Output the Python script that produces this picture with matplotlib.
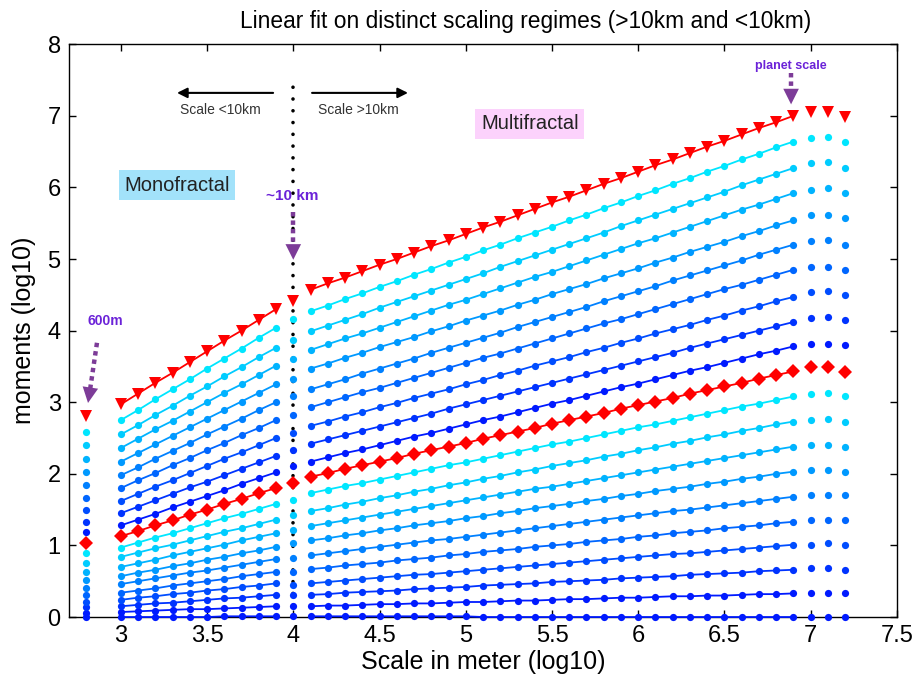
import matplotlib
matplotlib.use('Agg')
import matplotlib.pyplot as plt

plt.rcParams['font.family'] = ['Liberation Sans', 'DejaVu Sans']

# moment orders q (one curve per order)
q_orders = [0.0, 0.1, 0.2, 0.3, 0.4, 0.5, 0.6, 0.7, 0.8, 0.9, 1.0,
            1.1, 1.2, 1.3, 1.4, 1.5, 1.6, 1.7, 1.8, 1.9, 2.0]

# scales (log10 of meters)
scale_600m = 2.8
scale_left = [3.0, 3.1, 3.2, 3.3, 3.4, 3.5, 3.6, 3.7, 3.8, 3.9]
scale_10km = 4.0
scale_right = [4.1, 4.2, 4.3, 4.4, 4.5, 4.6, 4.7, 4.8, 4.9, 5.0,
               5.1, 5.2, 5.3, 5.4, 5.5, 5.6, 5.7, 5.8, 5.9, 6.0,
               6.1, 6.2, 6.3, 6.4, 6.5, 6.6, 6.7, 6.8, 6.9]
scale_tail = [7.0, 7.1, 7.2]

# log10 moments
mom_600m = [0.00, 0.06, 0.14, 0.21, 0.31, 0.40, 0.52, 0.63, 0.75, 0.89, 1.03,
            1.19, 1.33, 1.49, 1.66, 1.84, 2.03, 2.21, 2.40, 2.59, 2.81]

mom_left = [
    [0.00, 0.00, 0.00, 0.00, 0.00, 0.00, 0.01, 0.01, 0.01, 0.01],
    [0.07, 0.08, 0.09, 0.10, 0.11, 0.11, 0.12, 0.13, 0.14, 0.15],
    [0.15, 0.17, 0.19, 0.20, 0.22, 0.24, 0.26, 0.27, 0.29, 0.31],
    [0.24, 0.27, 0.29, 0.32, 0.34, 0.37, 0.39, 0.42, 0.44, 0.47],
    [0.34, 0.37, 0.40, 0.44, 0.47, 0.50, 0.53, 0.57, 0.60, 0.63],
    [0.46, 0.50, 0.54, 0.58, 0.62, 0.65, 0.69, 0.73, 0.77, 0.81],
    [0.57, 0.62, 0.66, 0.71, 0.75, 0.80, 0.84, 0.89, 0.93, 0.98],
    [0.70, 0.75, 0.80, 0.86, 0.91, 0.96, 1.01, 1.07, 1.12, 1.17],
    [0.84, 0.90, 0.96, 1.01, 1.07, 1.13, 1.19, 1.24, 1.30, 1.36],
    [0.97, 1.04, 1.11, 1.17, 1.24, 1.31, 1.38, 1.44, 1.51, 1.58],
    [1.13, 1.20, 1.28, 1.35, 1.43, 1.50, 1.58, 1.65, 1.73, 1.80],
    [1.28, 1.36, 1.44, 1.53, 1.61, 1.69, 1.77, 1.86, 1.94, 2.02],
    [1.45, 1.54, 1.63, 1.72, 1.81, 1.89, 1.98, 2.07, 2.16, 2.25],
    [1.62, 1.72, 1.82, 1.91, 2.01, 2.11, 2.21, 2.30, 2.40, 2.50],
    [1.80, 1.91, 2.01, 2.12, 2.22, 2.33, 2.43, 2.54, 2.64, 2.75],
    [1.98, 2.09, 2.21, 2.32, 2.43, 2.55, 2.66, 2.77, 2.89, 3.00],
    [2.17, 2.29, 2.41, 2.53, 2.65, 2.77, 2.89, 3.01, 3.13, 3.25],
    [2.36, 2.49, 2.62, 2.74, 2.87, 3.00, 3.13, 3.25, 3.38, 3.51],
    [2.55, 2.68, 2.82, 2.95, 3.09, 3.22, 3.36, 3.49, 3.63, 3.76],
    [2.75, 2.89, 3.04, 3.18, 3.32, 3.47, 3.61, 3.75, 3.90, 4.04],
    [2.97, 3.12, 3.27, 3.41, 3.56, 3.71, 3.86, 4.00, 4.15, 4.30],
]

mom_10km = [0.01, 0.15, 0.31, 0.45, 0.63, 0.82, 1.03, 1.22, 1.43, 1.64, 1.87,
            2.11, 2.33, 2.57, 2.82, 3.08, 3.33, 3.61, 3.87, 4.16, 4.42]

mom_right = [
    [0.01, 0.01, 0.01, 0.01, 0.01, 0.01, 0.01, 0.01, 0.01, 0.01, 0.00, 0.00, 0.00, 0.00, 0.00,
     0.00, 0.00, 0.00, 0.00, 0.00, 0.00, 0.00, 0.00, 0.00, 0.00, 0.00, 0.00, 0.00, 0.00],
    [0.15, 0.16, 0.16, 0.17, 0.18, 0.18, 0.19, 0.19, 0.20, 0.21, 0.21, 0.22, 0.23, 0.23, 0.24,
     0.25, 0.25, 0.26, 0.27, 0.27, 0.28, 0.29, 0.29, 0.30, 0.30, 0.31, 0.32, 0.32, 0.33],
    [0.31, 0.32, 0.34, 0.35, 0.36, 0.37, 0.39, 0.40, 0.41, 0.42, 0.44, 0.45, 0.46, 0.47, 0.49,
     0.50, 0.51, 0.52, 0.54, 0.55, 0.56, 0.57, 0.59, 0.60, 0.61, 0.62, 0.64, 0.65, 0.66],
    [0.47, 0.49, 0.51, 0.53, 0.55, 0.57, 0.59, 0.60, 0.62, 0.64, 0.66, 0.68, 0.70, 0.72, 0.74,
     0.76, 0.78, 0.80, 0.82, 0.84, 0.86, 0.88, 0.89, 0.91, 0.93, 0.95, 0.97, 0.99, 1.01],
    [0.67, 0.69, 0.72, 0.74, 0.76, 0.79, 0.81, 0.83, 0.86, 0.88, 0.91, 0.93, 0.95, 0.98, 1.00,
     1.02, 1.05, 1.07, 1.09, 1.12, 1.14, 1.17, 1.19, 1.21, 1.24, 1.26, 1.28, 1.31, 1.33],
    [0.86, 0.89, 0.92, 0.95, 0.98, 1.01, 1.04, 1.07, 1.09, 1.12, 1.15, 1.18, 1.21, 1.24, 1.27,
     1.30, 1.33, 1.36, 1.39, 1.42, 1.45, 1.48, 1.50, 1.53, 1.56, 1.59, 1.62, 1.65, 1.68],
    [1.07, 1.10, 1.14, 1.17, 1.21, 1.24, 1.28, 1.31, 1.34, 1.38, 1.41, 1.45, 1.48, 1.52, 1.55,
     1.58, 1.62, 1.65, 1.69, 1.72, 1.76, 1.79, 1.82, 1.86, 1.89, 1.93, 1.96, 2.00, 2.03],
    [1.27, 1.31, 1.35, 1.39, 1.43, 1.47, 1.51, 1.55, 1.59, 1.63, 1.67, 1.71, 1.75, 1.79, 1.82,
     1.86, 1.90, 1.94, 1.98, 2.02, 2.06, 2.10, 2.14, 2.18, 2.22, 2.26, 2.30, 2.34, 2.38],
    [1.48, 1.52, 1.57, 1.61, 1.66, 1.70, 1.75, 1.79, 1.84, 1.88, 1.93, 1.97, 2.02, 2.06, 2.11,
     2.15, 2.19, 2.24, 2.28, 2.33, 2.37, 2.42, 2.46, 2.51, 2.55, 2.60, 2.64, 2.69, 2.73],
    [1.73, 1.78, 1.83, 1.87, 1.92, 1.97, 2.02, 2.07, 2.12, 2.16, 2.21, 2.26, 2.31, 2.36, 2.41,
     2.45, 2.50, 2.55, 2.60, 2.65, 2.69, 2.74, 2.79, 2.84, 2.89, 2.94, 2.98, 3.03, 3.08],
    [1.96, 2.01, 2.07, 2.12, 2.17, 2.22, 2.28, 2.33, 2.38, 2.43, 2.49, 2.54, 2.59, 2.64, 2.70,
     2.75, 2.80, 2.85, 2.91, 2.96, 3.01, 3.06, 3.12, 3.17, 3.22, 3.27, 3.33, 3.38, 3.43],
    [2.17, 2.23, 2.29, 2.34, 2.40, 2.46, 2.52, 2.57, 2.63, 2.69, 2.75, 2.80, 2.86, 2.92, 2.98,
     3.03, 3.09, 3.15, 3.21, 3.26, 3.32, 3.38, 3.44, 3.49, 3.55, 3.61, 3.67, 3.72, 3.78],
    [2.42, 2.48, 2.54, 2.60, 2.66, 2.72, 2.78, 2.84, 2.91, 2.97, 3.03, 3.09, 3.15, 3.21, 3.27,
     3.33, 3.39, 3.45, 3.51, 3.57, 3.63, 3.69, 3.76, 3.82, 3.88, 3.94, 4.00, 4.06, 4.12],
    [2.67, 2.73, 2.80, 2.86, 2.93, 2.99, 3.06, 3.12, 3.18, 3.25, 3.31, 3.38, 3.44, 3.51, 3.57,
     3.63, 3.70, 3.76, 3.83, 3.89, 3.96, 4.02, 4.08, 4.15, 4.21, 4.28, 4.34, 4.41, 4.47],
    [2.93, 3.00, 3.07, 3.14, 3.20, 3.27, 3.34, 3.41, 3.48, 3.55, 3.62, 3.68, 3.75, 3.82, 3.89,
     3.96, 4.03, 4.10, 4.16, 4.23, 4.30, 4.37, 4.44, 4.51, 4.58, 4.64, 4.71, 4.78, 4.85],
    [3.18, 3.25, 3.32, 3.40, 3.47, 3.54, 3.61, 3.69, 3.76, 3.83, 3.90, 3.97, 4.05, 4.12, 4.19,
     4.26, 4.33, 4.41, 4.48, 4.55, 4.62, 4.70, 4.77, 4.84, 4.91, 4.98, 5.06, 5.13, 5.20],
    [3.47, 3.54, 3.62, 3.69, 3.77, 3.84, 3.91, 3.99, 4.06, 4.14, 4.21, 4.28, 4.36, 4.43, 4.51,
     4.58, 4.65, 4.73, 4.80, 4.87, 4.95, 5.02, 5.10, 5.17, 5.24, 5.32, 5.39, 5.47, 5.54],
    [3.73, 3.81, 3.89, 3.96, 4.04, 4.12, 4.20, 4.28, 4.36, 4.43, 4.51, 4.59, 4.67, 4.75, 4.82,
     4.90, 4.98, 5.06, 5.14, 5.22, 5.29, 5.37, 5.45, 5.53, 5.61, 5.69, 5.76, 5.84, 5.92],
    [3.99, 4.07, 4.15, 4.23, 4.32, 4.40, 4.48, 4.56, 4.64, 4.72, 4.80, 4.89, 4.97, 5.05, 5.13,
     5.21, 5.29, 5.37, 5.46, 5.54, 5.62, 5.70, 5.78, 5.86, 5.94, 6.03, 6.11, 6.19, 6.27],
    [4.27, 4.35, 4.44, 4.52, 4.61, 4.69, 4.78, 4.86, 4.95, 5.03, 5.12, 5.20, 5.29, 5.37, 5.45,
     5.54, 5.62, 5.71, 5.79, 5.88, 5.96, 6.05, 6.13, 6.22, 6.30, 6.39, 6.47, 6.56, 6.64],
    [4.57, 4.66, 4.74, 4.83, 4.92, 5.00, 5.09, 5.18, 5.26, 5.35, 5.44, 5.52, 5.61, 5.70, 5.79,
     5.87, 5.96, 6.05, 6.13, 6.22, 6.31, 6.39, 6.48, 6.57, 6.65, 6.74, 6.83, 6.91, 7.00],
]

mom_tail = [
    [0.00, 0.00, 0.00], [0.33, 0.33, 0.33], [0.68, 0.68, 0.66], [1.01, 1.03, 1.01],
    [1.35, 1.36, 1.35], [1.70, 1.70, 1.70], [2.05, 2.06, 2.03], [2.40, 2.40, 2.38],
    [2.75, 2.77, 2.73], [3.12, 3.13, 3.08], [3.49, 3.49, 3.42], [3.82, 3.82, 3.80],
    [4.18, 4.19, 4.15], [4.54, 4.55, 4.50], [4.89, 4.89, 4.85], [5.25, 5.27, 5.20],
    [5.62, 5.62, 5.57], [5.97, 5.99, 5.92], [6.34, 6.35, 6.27], [6.69, 6.71, 6.64],
    [7.06, 7.06, 6.98],
]

PURPLE_ARROW = '#7d3c98'
PURPLE_TEXT = '#6b22d8'


def curve_style(i):
    # q=1 and q=2 are highlighted in red, others go from blue to cyan
    if i == 20:
        return 'red', 'v', 9
    if i == 10:
        return 'red', 'D', 7
    j = i % 10
    g = max(j, 1) / 10.0
    return (0.0, g, 1.0), 'o', 5.2


def dotted_arrow(ax, start, base, tip):
    # dotted shaft + solid filled head
    ax.plot([start[0], base[0]], [start[1], base[1]], color=PURPLE_ARROW, lw=3.2,
            linestyle=(0, (1, 0.9)), zorder=5)
    ax.annotate('', xy=tip, xytext=base,
                arrowprops=dict(arrowstyle='-|>', color=PURPLE_ARROW, lw=0.01,
                                mutation_scale=28, shrinkA=0, shrinkB=0), zorder=5)


fig = plt.figure(figsize=(9.23, 6.8), dpi=100)
ax = fig.add_axes([0.0748, 0.0926, 0.897, 0.8424])
ax.set_xlim(2.7, 7.5)
ax.set_ylim(0, 8)

# dotted separation at ~10 km
ax.plot([scale_10km, scale_10km], [0, 7.42], color='black', lw=2.6,
        linestyle=(0, (0.01, 3.25)), dash_capstyle='round', zorder=1)

for i, q in enumerate(q_orders):
    c, m, ms = curve_style(i)
    kw = dict(color=c, marker=m, markersize=ms, markeredgewidth=0, clip_on=False, zorder=3)
    ax.plot(scale_left, mom_left[i], '-', lw=1.3, **kw)
    ax.plot(scale_right, mom_right[i], '-', lw=1.3, **kw)
    ax.plot([scale_600m], [mom_600m[i]], linestyle='none', **kw)
    ax.plot([scale_10km], [mom_10km[i]], linestyle='none', **kw)
    ax.plot(scale_tail, mom_tail[i], linestyle='none', **kw)

# regime arrows
ax.annotate('', xy=(3.326, 7.32), xytext=(3.883, 7.32),
            arrowprops=dict(arrowstyle='-|>', color='black', lw=1.5, mutation_scale=15,
                            shrinkA=0, shrinkB=0))
ax.annotate('', xy=(4.665, 7.32), xytext=(4.109, 7.32),
            arrowprops=dict(arrowstyle='-|>', color='black', lw=1.5, mutation_scale=15,
                            shrinkA=0, shrinkB=0))
ax.text(3.575, 7.08, 'Scale <10km', fontsize=10, color='#333333', ha='center', va='center')
ax.text(4.375, 7.08, 'Scale >10km', fontsize=10, color='#333333', ha='center', va='center')

ax.text(3.326, 6.03, 'Monofractal', fontsize=14.5, color='#222222', ha='center', va='center',
        bbox=dict(boxstyle='square,pad=0.28', facecolor='#a2e2fa', edgecolor='none'))
ax.text(5.372, 6.89, 'Multifractal', fontsize=14.5, color='#222222', ha='center', va='center',
        bbox=dict(boxstyle='square,pad=0.28', facecolor='#fcd2fc', edgecolor='none'))

# purple markers for specific scales
ax.text(3.993, 5.88, '~10 km', fontsize=11, fontweight='bold', color=PURPLE_TEXT,
        ha='center', va='center')
dotted_arrow(ax, (4.0, 5.66), (4.0, 5.20), (4.0, 4.99))
ax.text(2.909, 4.13, '600m', fontsize=10, fontweight='bold', color=PURPLE_TEXT,
        ha='center', va='center')
dotted_arrow(ax, (2.862, 3.83), (2.823, 3.195), (2.81, 2.99))
ax.text(6.886, 7.70, 'planet scale', fontsize=9, fontweight='bold', color=PURPLE_TEXT,
        ha='center', va='center')
dotted_arrow(ax, (6.886, 7.60), (6.886, 7.37), (6.886, 7.16))

ax.set_xticks([3, 3.5, 4, 4.5, 5, 5.5, 6, 6.5, 7, 7.5])
ax.set_xticklabels(['3', '3.5', '4', '4.5', '5', '5.5', '6', '6.5', '7', '7.5'])
ax.set_yticks([0, 1, 2, 3, 4, 5, 6, 7, 8])
ax.tick_params(direction='in', length=5, width=1, labelsize=17, top=True, right=True, pad=6)
for s in ax.spines.values():
    s.set_linewidth(1.0)

ax.set_xlabel('Scale in meter (log10)', fontsize=18, labelpad=2)
ax.set_ylabel('moments (log10)', fontsize=18, labelpad=8)
ax.set_title('Linear fit on distinct scaling regimes (>10km and <10km)', fontsize=16.4,
             pad=12, x=0.551)

fig.savefig('out.png', dpi=100)
